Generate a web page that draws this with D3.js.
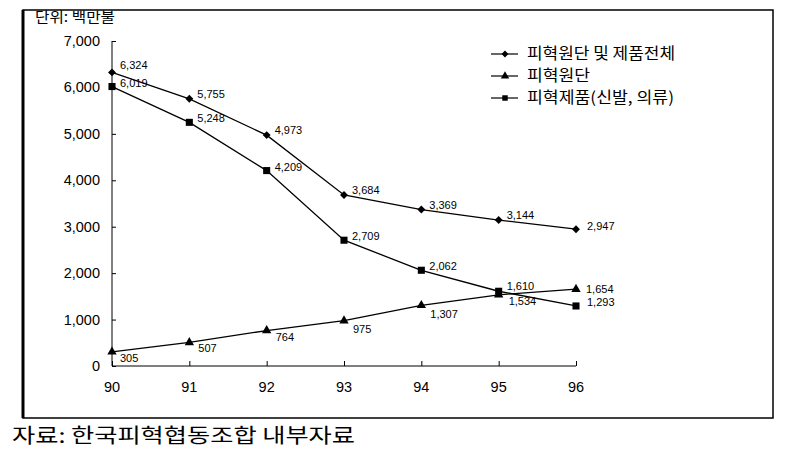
<!DOCTYPE html>
<html><head><meta charset="utf-8">
<script src="https://cdn.jsdelivr.net/npm/d3@7"></script>
<style>body{margin:0;background:#fff}svg{display:block}</style>
</head><body>
<svg id="c" width="787" height="458"></svg>
<script>
const years = ["90","91","92","93","94","95","96"];
const totalValues = [6324,5755,4973,3684,3369,3144,2947];
const rawValues = [305,507,764,975,1307,1534,1654];
const productValues = [6019,5248,4209,2709,2062,1610,1293];
const yTicks = [0,1000,2000,3000,4000,5000,6000,7000];
const seriesNames = ["피혁원단 및 제품전체","피혁원단","피혁제품(신발, 의류)"];
const unitLabel = "단위: 백만불";
const sourceLabel = "자료: 한국피혁협동조합 내부자료";

const svg = d3.select("#c");
const font = "'Liberation Sans', Arial, sans-serif";
const kfont = "'Noto Sans CJK KR', sans-serif";

// frame
svg.append("rect").attr("x",23).attr("y",10).attr("width",750).attr("height",408)
  .attr("fill","none").attr("stroke","#000").attr("stroke-width",1.5);
svg.append("line").attr("x1",23).attr("x2",23).attr("y1",10).attr("y2",418).attr("stroke","#000").attr("stroke-width",3);

const x = d3.scalePoint().domain(years).range([112,576]);
const y = d3.scaleLinear().domain([0,7000]).range([366,41]);

const yAxis = svg.append("g").attr("transform","translate(112,0)")
  .call(d3.axisRight(y).tickValues(yTicks).tickSize(4).tickFormat(""));
yAxis.select(".domain").attr("stroke","#000").attr("d","M0,"+y(7000)+"V"+y(0));
yAxis.selectAll(".tick line").attr("stroke","#000");

svg.append("g").selectAll("text").data(yTicks).join("text")
  .attr("x",100).attr("y",d=>y(d)+5).attr("text-anchor","end")
  .attr("font-family",font).attr("font-size",14.5).text(d=>d3.format(",")(d));

const xAxis = svg.append("g").attr("transform","translate(0,366)")
  .call(d3.axisTop(x).tickSize(5).tickFormat(""));
xAxis.select(".domain").attr("stroke","#000").attr("d","M112,0H576");
xAxis.selectAll(".tick line").attr("stroke","#000");
svg.append("g").selectAll("text").data(years).join("text")
  .attr("x",d=>x(d)).attr("y",392).attr("text-anchor","middle")
  .attr("font-family",font).attr("font-size",14.5).text(d=>d);

const line = d3.line().x((d,i)=>x(years[i])).y(d=>y(d));
const series = [
  {vals: totalValues, sym: d3.symbolDiamond2, size: 40},
  {vals: rawValues, sym: d3.symbolTriangle, size: 38},
  {vals: productValues, sym: d3.symbolSquare, size: 50}
];
series.forEach((s,si)=>{
  svg.append("path").datum(s.vals).attr("d",line).attr("fill","none").attr("stroke","#000").attr("stroke-width",1.3);
  svg.append("g").selectAll("path").data(s.vals).join("path")
    .attr("transform",(d,i)=>`translate(${x(years[i])},${y(d)})`)
    .attr("d",d3.symbol(s.sym,s.size)).attr("fill","#000");
});

// data labels
const labelOffsets = {
  0: [[8,-3],[8,-1],[8,-1],[8,-1],[8,-1],[8,-1],[11,1]],
  1: [[8,10],[9,10],[9,10],[9,12],[9,13],[10,10],[10,4]],
  2: [[8,0],[8,0],[8,0],[8,0],[8,0],[8,-1],[11,0]]
};
series.forEach((s,si)=>{
  svg.append("g").selectAll("text").data(s.vals).join("text")
    .attr("x",(d,i)=>x(years[i])+labelOffsets[si][i][0])
    .attr("y",(d,i)=>y(d)+labelOffsets[si][i][1])
    .attr("font-family",font).attr("font-size",11).text(d=>d3.format(",")(d));
});

// legend
const legY = [54,76,98];
const legW = [148,63,147];
const syms = [d3.symbolDiamond2, d3.symbolTriangle, d3.symbolSquare];
seriesNames.forEach((n,i)=>{
  svg.append("line").attr("x1",491).attr("x2",518).attr("y1",legY[i]).attr("y2",legY[i]).attr("stroke","#000").attr("stroke-width",1.2);
  svg.append("path").attr("transform",`translate(505,${legY[i]})`).attr("d",d3.symbol(syms[i],30)).attr("fill","#000");
  svg.append("text").attr("x",527).attr("y",legY[i]+5).attr("font-family",kfont).attr("font-size",15.5)
    .attr("textLength",legW[i]).attr("lengthAdjust","spacingAndGlyphs").text(n);
});

svg.append("text").attr("x",35).attr("y",22).attr("font-family",kfont).attr("font-size",14)
  .attr("textLength",80).attr("lengthAdjust","spacingAndGlyphs").text(unitLabel);
svg.append("text").attr("x",12).attr("y",443).attr("font-family",kfont).attr("font-size",20)
  .attr("textLength",343).attr("lengthAdjust","spacingAndGlyphs").text(sourceLabel);
</script>
</body></html>
